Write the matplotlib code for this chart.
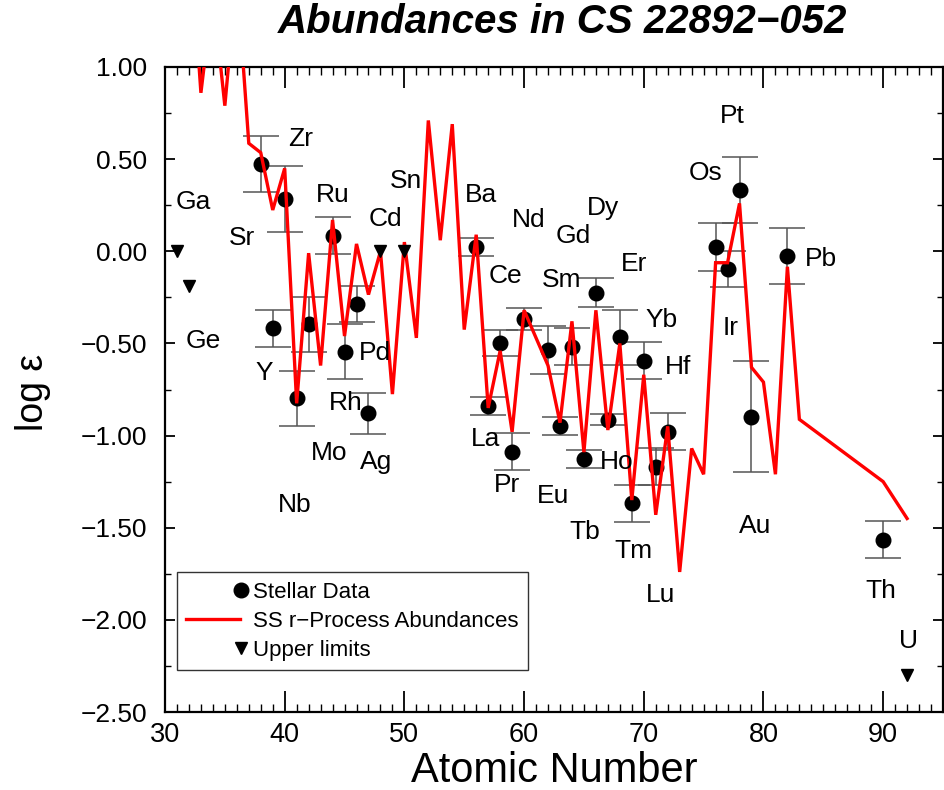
import matplotlib
matplotlib.use('Agg')
import matplotlib.pyplot as plt
from matplotlib.ticker import MultipleLocator, FuncFormatter
from matplotlib.lines import Line2D
from matplotlib.legend_handler import HandlerLine2D

# ---------------- data ----------------
# Solar-system r-process abundance curve (scaled)
ss_z = [32, 33, 34, 35, 36, 37, 38, 39, 40, 41, 42, 43, 44, 45, 46, 47, 48, 49, 50,
        51, 52, 53, 54, 55, 56, 57, 58, 59, 60, 61, 62, 63, 64, 65, 66, 67, 68, 69,
        70, 71, 72, 73, 74, 75, 76, 77, 78, 79, 80, 81, 82, 83, 90, 92]
ss_val = [1.80, 0.86, 1.40, 0.79, 1.50, 0.586, 0.535, 0.224, 0.45, -0.825, -0.01, -0.62,
          0.17, -0.46, 0.04, -0.235, 0.0, -0.775, 0.05, -0.47, 0.71, 0.06, 0.69, -0.425,
          0.09, -0.85, -0.54, -0.98, -0.32, -0.47, -0.62, -0.93, -0.38, -1.09, -0.32,
          -0.97, -0.50, -1.35, -0.67, -1.43, -0.95, -1.74, -1.07, -1.21, -0.062, -0.062,
          0.26, -0.63, -0.71, -1.21, -0.084, -0.912, -1.25, -1.45]

# Stellar abundances with errors
star_el = ['Sr', 'Y', 'Zr', 'Nb', 'Mo', 'Ru', 'Rh', 'Pd', 'Ag', 'Ba', 'La', 'Ce', 'Pr',
           'Nd', 'Sm', 'Eu', 'Gd', 'Tb', 'Dy', 'Ho', 'Er', 'Tm', 'Yb', 'Lu', 'Hf', 'Os',
           'Ir', 'Pt', 'Au', 'Pb', 'Th']
star_z = [38, 39, 40, 41, 42, 44, 45, 46, 47, 56, 57, 58, 59, 60, 62, 63, 64, 65, 66, 67,
          68, 69, 70, 71, 72, 76, 77, 78, 79, 82, 90]
star_val = [0.474, -0.418, 0.282, -0.798, -0.397, 0.085, -0.545, -0.286, -0.879, 0.022,
            -0.838, -0.496, -1.087, -0.367, -0.536, -0.948, -0.517, -1.128, -0.224,
            -0.915, -0.467, -1.367, -0.594, -1.169, -0.979, 0.025, -0.096, 0.333, -0.897,
            -0.026, -1.566]
star_err = [0.15, 0.10, 0.18, 0.15, 0.15, 0.10, 0.15, 0.10, 0.11, 0.05, 0.05, 0.07, 0.10,
            0.06, 0.13, 0.05, 0.10, 0.05, 0.08, 0.03, 0.15, 0.10, 0.10, 0.10, 0.10, 0.13,
            0.10, 0.18, 0.30, 0.15, 0.10]

# Upper limits
lim_el = ['Ga', 'Ge', 'Cd', 'Sn', 'U']
lim_z = [31, 32, 48, 50, 92]
lim_val = [0.0, -0.19, 0.0, 0.0, -2.30]

# Element name labels (text placement, data coords)
lab_text = ['Ga', 'Ge', 'Sr', 'Y', 'Zr', 'Nb', 'Mo', 'Ru', 'Rh', 'Pd', 'Ag', 'Cd', 'Sn',
            'Ba', 'La', 'Ce', 'Pr', 'Nd', 'Sm', 'Eu', 'Gd', 'Tb', 'Dy', 'Ho', 'Er', 'Tm',
            'Yb', 'Lu', 'Hf', 'Os', 'Ir', 'Pt', 'Au', 'Pb', 'Th', 'U']
lab_x = [32.36, 33.19, 36.39, 38.27, 41.29, 40.83, 43.75, 44.03, 45.14, 47.53, 47.67,
         48.38, 50.10, 56.42, 56.81, 58.47, 58.61, 60.39, 63.17, 62.46, 64.14, 65.07,
         66.56, 67.74, 69.17, 69.10, 71.46, 71.39, 72.85, 75.14, 77.22, 77.43, 79.28,
         84.77, 89.79, 92.11]
lab_y = [0.2295, -0.526, 0.034, -0.698, 0.571, -1.413, -1.132, 0.269, -0.861, -0.590,
         -1.183, 0.139, 0.342, 0.269, -1.055, -0.174, -1.304, 0.130, -0.192, -1.367,
         0.047, -1.563, 0.197, -1.181, -0.105, -1.666, -0.409, -1.901, -0.667, 0.387,
         -0.454, 0.695, -1.53, -0.080, -1.883, -2.154]

x_ticks = [30, 40, 50, 60, 70, 80, 90]
y_ticks = [1.0, 0.5, 0.0, -0.5, -1.0, -1.5, -2.0, -2.5]

# ---------------- figure ----------------
plt.rcParams['font.family'] = ['Liberation Sans', 'DejaVu Sans']

fig = plt.figure(figsize=(9.44, 7.9), dpi=100)
ax = fig.add_axes([165 / 944, 78 / 790, 778 / 944, 645 / 790])

ax.errorbar(star_z, star_val, yerr=star_err, fmt='none', ecolor='#555555',
            elinewidth=1.1, capsize=13, capthick=1.1, zorder=2)
ax.plot(star_z, star_val, 'o', color='black', ms=10.5, zorder=3)
ax.plot(ss_z, ss_val, color='#ff0000', lw=2.4, solid_joinstyle='miter', zorder=4)
ax.plot(lim_z, lim_val, 'v', color='black', ms=9, zorder=5)

for t, x, y in zip(lab_text, lab_x, lab_y):
    ax.text(x, y, t, fontsize=19, ha='center', va='baseline', zorder=6)

ax.set_xlim(30, 95)
ax.set_ylim(-2.5, 1.0)
ax.set_xticks(x_ticks)
ax.set_yticks(y_ticks)
ax.xaxis.set_minor_locator(MultipleLocator(1))
ax.yaxis.set_minor_locator(MultipleLocator(0.25))
ax.yaxis.set_major_formatter(FuncFormatter(lambda v, p: f'{v:.2f}'.replace('-', '\u2212')))

ax.tick_params(axis='x', which='both', direction='in', top=True, bottom=True,
               labelsize=19.5, pad=7)
ax.tick_params(axis='x', which='major', length=15, width=1.3)
ax.tick_params(axis='x', which='minor', length=6, width=1.0)
ax.tick_params(axis='y', which='both', direction='in', left=True, right=True,
               labelsize=19, pad=13)
ax.tick_params(axis='y', which='major', length=7, width=1.3)
ax.tick_params(axis='y', which='minor', length=4, width=1.0)
for s in ax.spines.values():
    s.set_linewidth(1.6)

ax.set_xlabel('Atomic Number', fontsize=30)
ax.xaxis.set_label_coords(0.5, -0.0605)
ax.set_ylabel('log ε', fontsize=27)
ax.yaxis.set_label_coords(-0.1465, 0.496)

fig.text(563 / 944, 1 - 33 / 790, 'Abundances in CS 22892\u2212052', ha='center',
         va='baseline', fontsize=29, fontweight='bold', fontstyle='italic')


class RightMarker(HandlerLine2D):
    """Marker-only legend entry drawn at the right end of the handle box."""
    def get_xdata(self, legend, xdescent, ydescent, width, height, fontsize):
        c = -xdescent + width + 0.06 * fontsize
        return [c - 1.0, c + 1.0], [c]


h1 = Line2D([], [], marker='o', ls='none', color='black', ms=10.5)
h2 = Line2D([], [], color='#ff0000', lw=2.4)
h3 = Line2D([], [], marker='v', ls='none', color='black', ms=9)
leg = ax.legend([h1, h2, h3], ['Stellar Data', 'SS r\u2212Process Abundances', 'Upper limits'],
                loc='lower left', bbox_to_anchor=(0.0154, 0.0651), borderaxespad=0,
                fontsize=16, handlelength=2.4, handletextpad=0.6, borderpad=0.42,
                labelspacing=0.36, fancybox=False, edgecolor='#333333', framealpha=1,
                handler_map={h1: RightMarker(), h3: RightMarker()})
leg.get_frame().set_linewidth(1.0)

fig.savefig('out.png', dpi=100)
